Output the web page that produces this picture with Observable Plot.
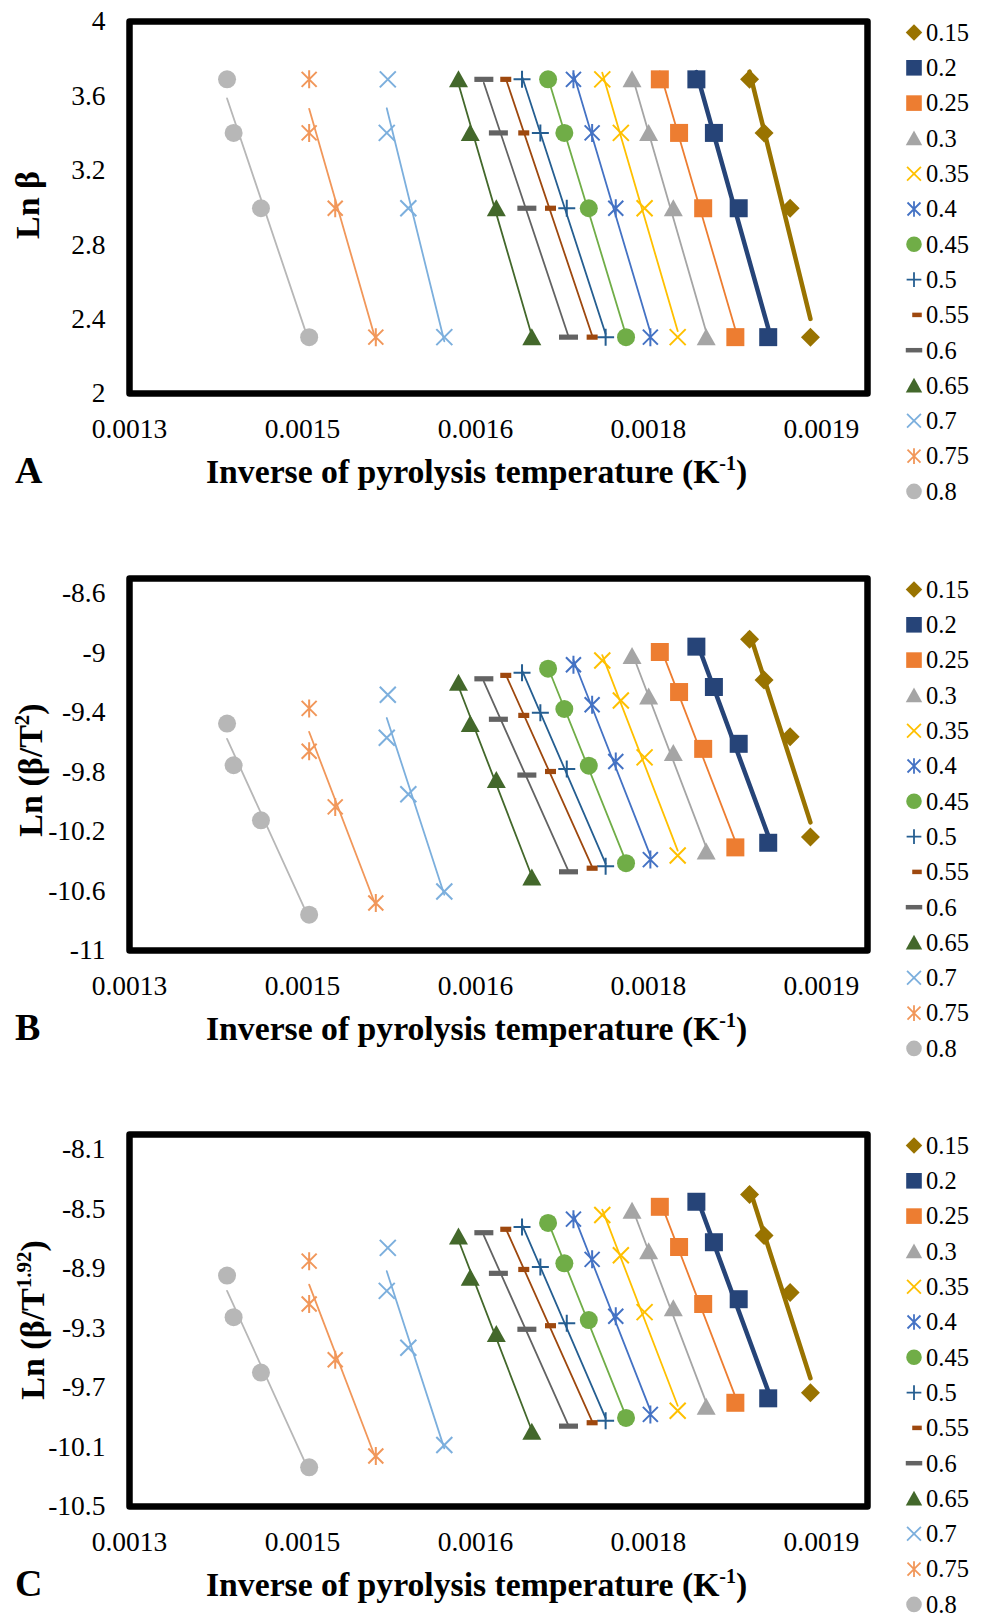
<!DOCTYPE html>
<html>
<head>
<meta charset="utf-8">
<script src="https://cdn.jsdelivr.net/npm/d3@7"></script>
<script src="https://cdn.jsdelivr.net/npm/@observablehq/plot@0.6"></script>
<style>
html, body { margin: 0; padding: 0; background: #fff; }
#page { position: relative; width: 984px; height: 1618px; overflow: hidden; background: #fff; }
.panel { position: absolute; left: 0; }
#page svg text { font-family: "Liberation Serif", "Times New Roman", serif; }
</style>
</head>
<body>
<div id="page"></div>
<script>
// ---------------- data ----------------
const conversions = ["0.15", "0.2", "0.25", "0.3", "0.35", "0.4", "0.45", "0.5", "0.55", "0.6", "0.65", "0.7", "0.75", "0.8"];
const heatingRates = [40, 30, 20, 10];

// inverse temperature (1/K) per conversion, for beta = 40, 30, 20, 10
const invTemp = [
  [0.0018377, 0.0018503, 0.0018729, 0.0018905],
  [0.0017916, 0.0018068, 0.0018283, 0.0018539],
  [0.0017599, 0.0017766, 0.0017975, 0.0018254],
  [0.0017358, 0.0017502, 0.0017716, 0.0018001],
  [0.0017100, 0.0017261, 0.0017467, 0.0017754],
  [0.0016850, 0.0017012, 0.0017217, 0.0017517],
  [0.0016630, 0.0016771, 0.0016983, 0.0017306],
  [0.0016404, 0.0016563, 0.0016792, 0.0017129],
  [0.0016263, 0.0016419, 0.0016651, 0.0017012],
  [0.0016073, 0.0016199, 0.0016446, 0.0016807],
  [0.0015853, 0.0015955, 0.0016181, 0.0016489],
  [0.0015240, 0.0015231, 0.0015418, 0.0015730],
  [0.0014558, 0.0014558, 0.0014784, 0.0015136],
  [0.0013846, 0.0013903, 0.0014140, 0.0014558]
];

// panel A: Ln beta (same for every conversion)
const lnBeta = [3.689, 3.401, 2.996, 2.303];

// panel B: Ln(beta/T^2)
const lnBetaT2 = [
  [-8.908, -9.182, -9.563, -10.237],
  [-8.958, -9.229, -9.611, -10.276],
  [-8.994, -9.263, -9.645, -10.307],
  [-9.021, -9.293, -9.673, -10.335],
  [-9.051, -9.320, -9.702, -10.362],
  [-9.080, -9.349, -9.730, -10.389],
  [-9.106, -9.377, -9.758, -10.413],
  [-9.133, -9.402, -9.780, -10.434],
  [-9.151, -9.420, -9.797, -10.447],
  [-9.174, -9.446, -9.821, -10.471],
  [-9.201, -9.477, -9.854, -10.509],
  [-9.281, -9.570, -9.950, -10.603],
  [-9.373, -9.661, -10.035, -10.681],
  [-9.475, -9.755, -10.125, -10.759]
];

// panel C: Ln(beta/T^1.92)
const lnBetaT192 = [
  [-8.404, -8.679, -9.061, -9.736],
  [-8.452, -8.724, -9.107, -9.773],
  [-8.486, -8.756, -9.139, -9.803],
  [-8.513, -8.785, -9.167, -9.829],
  [-8.541, -8.811, -9.194, -9.856],
  [-8.569, -8.839, -9.221, -9.881],
  [-8.594, -8.866, -9.247, -9.905],
  [-8.621, -8.890, -9.269, -9.924],
  [-8.637, -8.907, -9.285, -9.937],
  [-8.660, -8.933, -9.309, -9.960],
  [-8.686, -8.962, -9.340, -9.997],
  [-8.762, -9.051, -9.433, -10.087],
  [-8.851, -9.139, -9.514, -10.161],
  [-8.948, -9.228, -9.600, -10.237]
];

// axis ticks
const xDomain = [0.0013, 0.00194];
const xTicks = [0.0013, 0.00145, 0.0016, 0.00175, 0.0019];
const xTickLabels = ["0.0013", "0.0015", "0.0016", "0.0018", "0.0019"];
const yTicksA = [2, 2.4, 2.8, 3.2, 3.6, 4];
const yLabelsA = ["2", "2.4", "2.8", "3.2", "3.6", "4"];
const yTicksB = [-11, -10.6, -10.2, -9.8, -9.4, -9, -8.6];
const yLabelsB = ["-11", "-10.6", "-10.2", "-9.8", "-9.4", "-9", "-8.6"];
const yTicksC = [-10.5, -10.1, -9.7, -9.3, -8.9, -8.5, -8.1];
const yLabelsC = ["-10.5", "-10.1", "-9.7", "-9.3", "-8.9", "-8.5", "-8.1"];

// ---------------- styles ----------------
const colors = ["#997300", "#264478", "#ED7D31", "#A5A5A5", "#FFC000", "#4472C4", "#70AD47",
                "#255E91", "#9E480E", "#636363", "#43682B", "#7CAFDD", "#F1975A", "#B7B7B7"];
const lineWidths = [4.5, 4.5, 1.8, 1.8, 1.8, 1.8, 1.8, 1.8, 1.8, 1.8, 1.8, 1.8, 1.8, 1.8];

function sym(fn) {
  return { draw(ctx, size) { const k = Math.sqrt(size / Math.PI) / 9; fn(ctx, k); } };
}
const symDiamond = sym((c, k) => { const a = 9.5 * k; c.moveTo(0, -a); c.lineTo(a, 0); c.lineTo(0, a); c.lineTo(-a, 0); c.closePath(); });
const symSquare = sym((c, k) => { c.rect(-9 * k, -9 * k, 18 * k, 18 * k); });
const symTriangle = sym((c, k) => { c.moveTo(0, -9 * k); c.lineTo(9.5 * k, 8 * k); c.lineTo(-9.5 * k, 8 * k); c.closePath(); });
const symCircle = sym((c, k) => { c.moveTo(9 * k, 0); c.arc(0, 0, 9 * k, 0, 2 * Math.PI); c.closePath(); });
const symTimes = sym((c, k) => { const a = 8 * k; c.moveTo(-a, -a); c.lineTo(a, a); c.moveTo(-a, a); c.lineTo(a, -a); });
const symStar = sym((c, k) => { const a = 7.5 * k; c.moveTo(-a, -a); c.lineTo(a, a); c.moveTo(-a, a); c.lineTo(a, -a); c.moveTo(0, -9 * k); c.lineTo(0, 9 * k); });
const symPlus = sym((c, k) => { const a = 8.5 * k; c.moveTo(-a, 0); c.lineTo(a, 0); c.moveTo(0, -a); c.lineTo(0, a); });
const symLongBar = sym((c, k) => { c.rect(-9.5 * k, -2.6 * k, 19 * k, 5.2 * k); });
const symShortBar = sym((c, k) => { c.rect(-5.5 * k, -2.6 * k, 11 * k, 5.2 * k); });

const markerSymbols = [symDiamond, symSquare, symSquare, symTriangle, symTimes, symStar, symCircle,
                       symPlus, symShortBar, symLongBar, symTriangle, symTimes, symStar, symCircle];
const markerFilled = [true, true, true, true, false, false, true, false, true, true, true, false, false, true];

// ---------------- drawing ----------------
const page = document.getElementById("page");
const FONT = '"Liberation Serif", "Times New Roman", serif';

function makePanel(cfg) {
  const rows = [];
  conversions.forEach((c, i) => heatingRates.forEach((b, j) =>
    rows.push({ series: c, i, beta: b, x: invTemp[i][j], y: cfg.yValue(i, j) })));

  const marks = [];
  conversions.forEach((c, i) => {
    const d = rows.filter(r => r.i === i);
    marks.push(Plot.linearRegressionY(d, { x: "x", y: "y", stroke: colors[i], strokeWidth: lineWidths[i], ci: 0 }));
  });
  conversions.forEach((c, i) => {
    const d = rows.filter(r => r.i === i);
    marks.push(Plot.dot(d, {
      x: "x", y: "y", r: 9, symbol: markerSymbols[i],
      fill: markerFilled[i] ? colors[i] : "none",
      stroke: markerFilled[i] ? "none" : colors[i],
      strokeWidth: 2
    }));
  });
  marks.push(Plot.frame({ stroke: "#000", strokeWidth: 6.5, strokeLinejoin: "round" }));

  const svg = Plot.plot({
    width: 984, height: cfg.height,
    marginLeft: 129, marginRight: 117, marginTop: 21, marginBottom: cfg.height - 21 - 372,
    style: { fontFamily: FONT, fontSize: "27.5px", color: "#000", background: "transparent", overflow: "visible" },
    x: { domain: xDomain, ticks: xTicks, tickFormat: d => xTickLabels[xTicks.indexOf(d)], tickSize: 0, tickPadding: 25, label: null },
    y: { domain: cfg.yDomain, ticks: cfg.yTicks, tickFormat: d => cfg.yLabels[cfg.yTicks.indexOf(d)], tickSize: 0, tickPadding: 24, label: null },
    marks
  });

  const wrap = document.createElement("div");
  wrap.className = "panel";
  wrap.style.top = cfg.top + "px";
  wrap.appendChild(svg);
  page.appendChild(wrap);

  const s = d3.select(svg);

  // y title
  const yt = s.append("text")
    .attr("transform", `translate(${cfg.yTitleX},${cfg.yTitleY}) rotate(-90)`)
    .attr("text-anchor", "middle")
    .attr("font-weight", "bold")
    .attr("font-size", 34)
    .attr("fill", "#000");
  yt.append("tspan").text(cfg.yTitle[0]);
  if (cfg.yTitle[1]) {
    yt.append("tspan").attr("font-size", 21).attr("dy", -13).text(cfg.yTitle[1]);
    yt.append("tspan").attr("dy", 13).text(cfg.yTitle[2]);
  }

  // panel letter
  s.append("text").attr("x", 15).attr("y", 483).attr("text-anchor", "start")
    .attr("font-weight", "bold").attr("font-size", 38).attr("fill", "#000").text(cfg.letter);

  // x title
  const xt = s.append("text").attr("x", 206).attr("y", 483).attr("text-anchor", "start")
    .attr("font-weight", "bold").attr("font-size", 33.7).attr("fill", "#000");
  xt.append("tspan").text("Inverse of pyrolysis temperature (K");
  xt.append("tspan").attr("font-size", 20).attr("dy", -13).text("-1");
  xt.append("tspan").attr("dy", 13).text(")");

  // legend
  const lg = s.append("g").attr("text-anchor", "start");
  conversions.forEach((c, i) => {
    const cy = 32.5 + i * 35.3;
    const dx = (markerSymbols[i] === symShortBar) ? 3 : 0;
    lg.append("path")
      .attr("d", d3.symbol(markerSymbols[i], Math.PI * 7.8 * 7.8)())
      .attr("transform", `translate(${914 + dx},${cy})`)
      .attr("fill", markerFilled[i] ? colors[i] : "none")
      .attr("stroke", markerFilled[i] ? "none" : colors[i])
      .attr("stroke-width", 1.8);
    lg.append("text").attr("x", 926).attr("y", cy).attr("dy", "0.34em").attr("text-anchor", "start")
      .attr("font-size", 24.5).attr("fill", "#000").text(c);
  });
}

makePanel({
  top: 0, height: 556, letter: "A",
  yValue: (i, j) => lnBeta[j],
  yDomain: [2, 4], yTicks: yTicksA, yLabels: yLabelsA,
  yTitle: ["Ln β"], yTitleX: 38.5, yTitleY: 205
});
makePanel({
  top: 557, height: 556, letter: "B",
  yValue: (i, j) => lnBetaT2[i][j],
  yDomain: [-11, -8.5], yTicks: yTicksB, yLabels: yLabelsB,
  yTitle: ["Ln (β/T", "2", ")"], yTitleX: 42, yTitleY: 213
});
makePanel({
  top: 1113, height: 505, letter: "C",
  yValue: (i, j) => lnBetaT192[i][j],
  yDomain: [-10.5, -8.0], yTicks: yTicksC, yLabels: yLabelsC,
  yTitle: ["Ln (β/T", "1.92", ")"], yTitleX: 43.5, yTitleY: 207
});
</script>
</body>
</html>
